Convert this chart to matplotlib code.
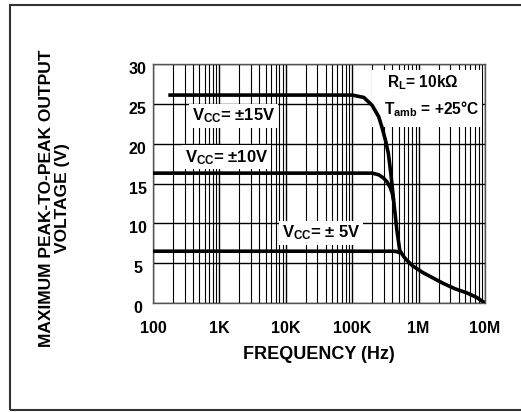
import matplotlib
matplotlib.use("Agg")
import matplotlib.pyplot as plt
from matplotlib.patches import Rectangle
from matplotlib.ticker import FixedLocator, NullFormatter
import matplotlib.transforms as mtransforms

plt.rcParams['font.family'] = ['Liberation Sans', 'DejaVu Sans']
plt.rcParams['mathtext.fontset'] = 'custom'
plt.rcParams['mathtext.rm'] = 'Liberation Sans'
plt.rcParams['mathtext.it'] = 'Liberation Sans'
plt.rcParams['mathtext.bf'] = 'Liberation Sans:bold'

# ---- data ----
f15 = [170, 100e3, 150e3, 200e3, 250e3, 280e3, 320e3, 350e3, 385e3, 420e3, 470e3,
       520e3, 600e3, 660e3, 800e3, 1.17e6, 1.6e6, 2.3e6, 3.5e6, 5.4e6, 7.5e6, 10e6]
v15 = [26.1, 26.1, 25.8, 24.8, 23.4, 22.1, 20.3, 18.8, 16.0, 12.9, 9.2,
       6.6, 5.8, 5.4, 4.7, 3.8, 3.2, 2.5, 1.8, 1.25, 0.7, 0.0]
f10 = [100, 200e3, 250e3, 295e3, 335e3, 370e3, 400e3, 420e3]
v10 = [16.3, 16.3, 16.1, 15.7, 15.2, 14.6, 13.8, 12.9]
f5 = [100, 420e3, 470e3, 520e3]
v5 = [6.5, 6.5, 6.45, 6.3]

xticks = [1e2, 1e3, 1e4, 1e5, 1e6, 1e7]
xticklabels = ['100', '1K', '10K', '100K', '1M', '10M']
yticks = [0, 5, 10, 15, 20, 25, 30]

W, H = 521, 412
fig = plt.figure(figsize=(W / 100, H / 100), dpi=100)

# outer frame
fig.patches.append(Rectangle((10 / W, 2 / H), (W - 10) / W + 0.01, (H - 7) / H,
                             transform=fig.transFigure, fill=False,
                             edgecolor='#333333', linewidth=1.5))

ax = fig.add_axes([153 / W, (H - 303) / H, (485 - 153) / W, (303 - 64) / H])
ax.set_xscale('log')
ax.set_xlim(1e2, 1e7)
ax.set_ylim(0, 30)

minors = [m * 10 ** e for e in range(2, 7) for m in range(2, 10)]
ax.xaxis.set_minor_locator(FixedLocator(minors))
ax.xaxis.set_minor_formatter(NullFormatter())
ax.set_xticks(xticks)
ax.set_xticklabels(xticklabels)
ax.set_yticks(yticks)

ax.grid(True, which='major', axis='both', color='black', linewidth=1.0, zorder=1)
ax.grid(True, which='minor', axis='x', color='black', linewidth=0.8, zorder=1)
ax.set_axisbelow(True)

ax.tick_params(axis='both', which='both', length=0)
ax.tick_params(axis='x', pad=13, labelsize=11.5)
ax.tick_params(axis='y', pad=11, labelsize=11.5)
for lab in ax.get_yticklabels():
    lab.set_horizontalalignment('center')
    lab.set_transform(lab.get_transform() + mtransforms.ScaledTranslation(0, -4 / 100, fig.dpi_scale_trans))
for lab in ax.get_xticklabels() + ax.get_yticklabels():
    lab.set_fontweight('bold')

for s in ax.spines.values():
    s.set_color('#555555')
    s.set_linewidth(1.0)

# white region behind the conditions
ax.add_patch(Rectangle((0.66, 0.736), 0.331, 0.239, transform=ax.transAxes,
                       facecolor='white', edgecolor='none', zorder=2))

lw = 2.6
ax.plot(f15, v15, color='black', linewidth=lw, zorder=4, solid_capstyle='butt')
ax.plot(f10, v10, color='black', linewidth=lw, zorder=4, solid_capstyle='butt')
ax.plot(f5, v5, color='black', linewidth=lw, zorder=4, solid_capstyle='butt')

bb = dict(facecolor='white', edgecolor='none', pad=2)
tk = dict(fontsize=12, fontweight='bold', zorder=3, va='center', ha='left')
tk2 = dict(tk, fontsize=11.2)
ax.text(390, 23.5, r'V$\mathregular{_{CC}}$= ±15V', bbox=bb, **tk)
ax.text(300, 18.3, r'V$\mathregular{_{CC}}$= ±10V', bbox=bb, **tk)
ax.text(8.7e3, 8.8, r'V$\mathregular{_{CC}}$= ± 5V', bbox=bb, **tk)
ax.text(0.705, 0.92, r'R$\mathregular{_L}$= 10kΩ', transform=ax.transAxes, **tk2)
ax.text(0.695, 0.81, r'T$\mathregular{_{amb}}$ = +25°C', transform=ax.transAxes, **tk2)

ax.set_xlabel('FREQUENCY (Hz)', fontsize=13, fontweight='bold', labelpad=7)
fig.text(47 / W, (H - 198) / H, 'MAXIMUM PEAK-TO-PEAK OUTPUT', rotation=90,
         ha='center', va='center', fontsize=12.5, fontweight='bold')
fig.text(62 / W, (H - 198) / H, 'VOLTAGE (V)', rotation=90,
         ha='center', va='center', fontsize=12.5, fontweight='bold')

fig.savefig('out.png', dpi=100)
